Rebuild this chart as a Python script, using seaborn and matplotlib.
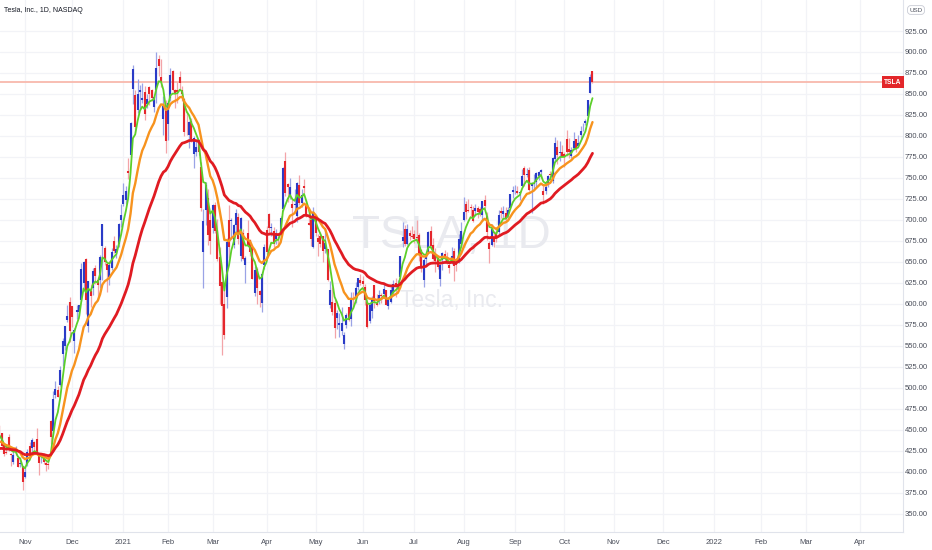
import numpy as np
import pandas as pd
import matplotlib
matplotlib.use("Agg")
import matplotlib.pyplot as plt
import seaborn as sns

# --- data: TSLA daily bars, 2020-10-14 .. 2021-10-19 ---
# closes before the visible window, only used to warm up the moving averages
prior_close = [475.05, 447.37, 407.00, 418.32, 330.21, 366.28, 371.34, 372.72, 419.62, 449.76,
               441.76, 423.43, 442.15, 449.39, 424.23, 380.36, 387.79, 407.34, 421.20, 419.07,
               429.01, 448.16, 415.09, 425.68, 413.98, 425.30, 425.92, 434.00, 442.30, 446.65]

open_px = [
    449.78, 450.31, 454.44, 446.24, 431.75, 422.70, 441.92, 421.84, 411.63, 423.76, 416.48, 409.96, 406.90,
    394.00, 409.73, 430.62, 428.30, 436.10, 439.50, 420.09, 416.45, 415.05, 410.85, 408.93, 460.17, 448.35,
    492.00, 497.99, 503.50, 540.40, 550.06, 581.16, 602.21,
    597.59, 556.44, 590.02, 591.01, 604.92, 625.51, 653.69, 574.37, 615.01, 619.00, 643.28, 628.23, 628.19,
    668.90, 666.24, 648.00, 632.20, 642.99, 674.51, 661.00, 672.00, 699.99,
    719.46, 723.66, 758.49, 777.63, 856.00, 849.40, 831.00, 852.76, 843.39, 852.00, 837.80, 858.74, 855.00,
    834.31, 855.00, 891.38, 870.35, 820.00, 830.00,
    814.29, 844.68, 877.02, 855.00, 855.00, 869.67, 855.12, 843.64, 812.44, 801.26, 818.00, 779.09, 780.90,
    795.00, 762.64, 662.13, 711.85, 726.15, 700.00,
    690.11, 718.28, 687.99, 655.80, 626.06, 600.55, 608.18, 700.30, 699.40, 670.00, 694.09, 703.35, 656.87,
    684.29, 646.60, 684.59, 675.77, 667.91, 613.00, 641.87, 615.64, 601.75, 646.62,
    688.37, 707.71, 690.30, 687.00, 677.38, 677.77, 685.70, 712.70, 770.70, 743.10, 728.65, 719.60, 717.42,
    704.77, 741.50, 719.80, 741.00, 717.96, 696.41, 699.51, 667.59,
    703.80, 678.94, 681.06, 680.76, 665.80, 664.90, 599.24, 602.49, 601.54, 583.41, 575.55, 568.00, 552.55,
    575.00, 596.11, 581.60, 607.31, 607.56, 620.24, 628.50,
    627.80, 620.13, 601.80, 579.71, 591.83, 623.01, 602.17, 603.88, 610.23, 612.23, 616.69, 597.54, 601.89,
    613.37, 624.48, 618.25, 632.00, 674.99, 689.58, 671.64, 684.65, 679.77,
    683.92, 678.98, 681.71, 664.27, 628.37, 653.18, 662.20, 686.32, 670.75, 658.39, 654.68, 629.89, 651.99,
    659.61, 656.44, 646.36, 650.97, 663.40, 647.00, 649.79, 671.76,
    700.00, 719.00, 711.00, 716.00, 711.90, 710.17, 713.99, 712.71, 706.34, 723.71, 705.07, 672.66, 669.75,
    678.21, 682.85, 685.44, 710.68, 707.03, 708.31, 705.00, 714.72, 733.00,
    734.08, 734.50, 732.25, 740.00, 761.58, 753.41, 759.60, 740.21, 742.57, 745.00, 752.83, 757.15, 734.56,
    734.79, 743.53, 755.00, 745.89, 773.12, 787.20, 779.80, 781.00,
    778.40, 796.50, 784.80, 776.20, 785.46, 796.21, 787.65, 800.93, 810.47, 815.49, 823.73, 851.77, 877.53,
]
high_px = [
    465.90, 456.57, 455.95, 447.00, 431.75, 432.95, 445.23, 422.89, 425.76, 430.50, 418.60, 418.06, 407.59,
    406.98, 427.77, 435.40, 440.00, 436.57, 452.50, 420.09, 418.70, 423.00, 412.53, 412.45, 462.00, 496.00,
    508.61, 502.50, 526.00, 559.99, 574.00, 598.78, 607.80,
    597.85, 571.54, 598.97, 599.04, 648.79, 651.28, 654.32, 627.75, 624.00, 642.75, 646.90, 632.50, 658.82,
    695.00, 668.50, 649.88, 651.50, 666.09, 681.40, 669.90, 696.60, 718.72,
    744.49, 740.84, 774.00, 816.99, 884.49, 854.43, 868.00, 860.47, 863.00, 859.90, 850.00, 859.50, 855.72,
    848.00, 900.40, 895.90, 891.50, 848.00, 842.41,
    842.00, 880.50, 878.08, 856.50, 864.77, 877.77, 859.80, 844.82, 829.88, 817.33, 821.00, 799.84, 794.69,
    796.79, 768.50, 713.61, 745.00, 737.21, 706.70,
    719.00, 721.11, 700.70, 668.45, 627.84, 620.13, 678.09, 717.85, 702.50, 694.88, 713.18, 707.92, 703.73,
    689.23, 657.23, 699.62, 677.80, 668.02, 645.50, 643.82, 616.48, 637.66, 672.00,
    692.42, 708.16, 696.55, 691.38, 689.55, 680.97, 704.80, 763.00, 780.79, 743.69, 749.41, 725.40, 737.25,
    744.84, 753.77, 737.36, 749.30, 724.00, 708.50, 702.25, 715.47,
    706.00, 683.45, 685.30, 681.02, 690.00, 665.05, 627.10, 620.41, 606.46, 592.87, 589.73, 596.25, 566.21,
    588.85, 596.68, 614.48, 613.99, 626.17, 631.13, 635.59,
    633.80, 623.36, 604.55, 600.61, 610.00, 623.09, 611.79, 616.59, 612.56, 625.49, 616.79, 608.50, 621.47,
    628.35, 631.39, 628.57, 657.20, 697.62, 693.81, 694.70, 687.51, 692.81,
    687.99, 700.00, 684.00, 665.70, 654.43, 658.91, 687.24, 693.28, 678.61, 666.14, 656.70, 647.20, 662.39,
    664.86, 662.17, 648.80, 668.20, 666.50, 654.97, 683.69, 697.53,
    726.94, 722.65, 724.90, 719.03, 716.33, 719.03, 716.59, 715.18, 722.80, 729.90, 709.50, 674.58, 695.77,
    686.55, 692.13, 712.13, 715.22, 716.97, 715.40, 715.00, 731.00, 740.39,
    741.99, 740.97, 734.00, 760.20, 764.45, 762.10, 762.61, 744.78, 754.47, 756.86, 758.91, 761.04, 742.00,
    744.74, 753.67, 758.20, 774.80, 799.00, 795.64, 793.50, 789.13,
    780.78, 806.97, 797.31, 786.66, 805.00, 796.38, 801.24, 812.32, 815.41, 820.25, 843.21, 874.25, 877.95,
]
low_px = [
    447.35, 442.50, 438.85, 428.87, 419.05, 421.25, 424.51, 407.38, 410.00, 420.10, 406.00, 406.46, 379.11,
    392.30, 406.69, 417.10, 424.00, 424.28, 421.00, 396.03, 410.58, 409.52, 401.66, 404.09, 433.01, 443.50,
    487.57, 489.06, 501.79, 526.20, 545.37, 578.45, 554.51,
    572.05, 541.21, 582.43, 585.50, 603.05, 618.50, 588.00, 566.34, 596.80, 610.20, 623.80, 605.00, 619.50,
    628.54, 646.07, 614.23, 622.57, 641.00, 660.80, 655.00, 668.36, 691.12,
    717.19, 719.20, 749.10, 775.20, 838.39, 803.62, 827.34, 832.00, 838.75, 819.10, 833.00, 837.28, 841.42,
    828.62, 838.82, 871.60, 858.66, 801.00, 780.10,
    795.56, 842.20, 853.06, 833.42, 838.97, 854.75, 841.75, 800.02, 801.73, 785.33, 792.44, 762.01, 776.27,
    777.37, 710.20, 619.00, 694.17, 670.58, 659.51,
    685.05, 685.00, 651.71, 600.00, 539.49, 558.79, 595.21, 655.06, 677.18, 666.14, 684.04, 671.00, 651.01,
    652.00, 624.62, 668.75, 657.51, 630.11, 609.50, 599.89, 596.02, 591.01, 641.11,
    659.42, 684.70, 681.37, 667.84, 671.65, 669.43, 682.09, 710.66, 728.03, 721.31, 724.60, 691.80, 710.69,
    698.00, 718.04, 715.46, 732.61, 703.35, 693.60, 668.50, 666.14,
    680.50, 657.70, 667.34, 650.00, 660.22, 627.61, 595.60, 586.77, 559.65, 570.46, 561.20, 563.38, 546.98,
    571.07, 580.00, 573.65, 595.71, 601.50, 616.21, 622.38,
    620.55, 599.14, 571.22, 577.20, 582.88, 595.50, 597.63, 600.50, 601.52, 609.18, 598.23, 593.50, 601.34,
    611.80, 608.88, 615.50, 630.04, 667.61, 668.70, 670.32, 675.89, 678.14,
    672.80, 673.26, 651.40, 638.32, 620.46, 644.69, 662.16, 666.30, 652.84, 637.88, 642.20, 621.29, 640.50,
    650.29, 647.80, 637.30, 647.11, 627.24, 639.40, 648.80, 669.00,
    698.40, 701.01, 708.93, 705.13, 697.63, 705.13, 701.88, 704.21, 699.40, 714.34, 676.40, 648.84, 669.35,
    667.59, 673.70, 682.68, 702.64, 704.00, 697.62, 702.10, 712.73, 726.44,
    731.27, 730.54, 724.20, 739.26, 740.77, 751.63, 734.52, 708.85, 736.40, 738.36, 747.61, 750.00, 718.62,
    730.44, 739.12, 747.92, 744.56, 769.31, 766.18, 770.68, 775.00,
    763.59, 776.12, 774.20, 773.22, 783.38, 780.91, 785.50, 796.57, 805.78, 813.35, 822.35, 851.47, 862.51,
]
close_px = [
    461.30, 448.88, 439.67, 430.83, 421.94, 422.64, 425.79, 420.63, 420.28, 424.68, 406.02, 410.83, 388.04,
    400.51, 423.90, 420.98, 438.09, 429.95, 421.26, 410.36, 417.13, 411.76, 408.50, 408.09, 441.61, 486.64,
    499.27, 489.61, 521.85, 555.38, 574.00, 585.76, 567.60,
    584.76, 568.82, 593.38, 599.04, 641.76, 649.88, 604.48, 627.07, 609.99, 639.83, 633.25, 622.77, 655.90,
    695.00, 649.86, 640.34, 645.98, 661.77, 663.69, 665.99, 694.78, 705.67,
    729.77, 735.11, 755.98, 816.04, 880.02, 811.19, 849.44, 854.41, 845.00, 826.16, 844.55, 850.45, 844.99,
    846.64, 880.80, 883.09, 864.16, 835.43, 793.53,
    839.81, 872.79, 854.69, 849.99, 852.23, 863.42, 849.46, 804.82, 811.66, 816.12, 796.22, 798.15, 787.38,
    781.30, 714.50, 698.84, 742.02, 682.22, 675.50,
    718.43, 686.44, 653.20, 621.44, 597.95, 563.00, 673.58, 668.06, 699.60, 693.73, 707.94, 676.88, 701.81,
    653.16, 654.87, 670.00, 662.16, 630.27, 640.39, 618.71, 611.29, 635.62, 667.93,
    661.75, 691.05, 691.62, 670.97, 683.80, 677.02, 701.98, 762.32, 732.23, 738.85, 739.78, 714.63, 718.99,
    744.12, 719.69, 729.40, 738.20, 704.74, 694.40, 677.00, 709.44,
    684.90, 673.60, 670.94, 663.54, 672.37, 629.04, 617.20, 589.89, 571.69, 589.74, 576.83, 577.87, 563.46,
    586.78, 580.88, 606.44, 604.69, 619.13, 630.85, 625.22,
    623.90, 605.12, 572.84, 599.05, 605.13, 603.59, 598.78, 610.12, 609.89, 617.69, 599.36, 604.87, 616.60,
    623.31, 620.83, 623.71, 656.57, 679.82, 671.87, 688.72, 680.76, 679.70,
    677.92, 678.90, 659.58, 644.65, 652.81, 656.95, 685.70, 668.54, 653.38, 650.60, 644.22, 646.22, 660.50,
    655.29, 649.26, 643.38, 657.62, 644.78, 646.98, 677.35, 687.20,
    709.67, 709.74, 710.92, 714.63, 699.10, 713.76, 709.99, 707.82, 722.25, 717.17, 686.17, 665.71, 688.99,
    673.47, 680.26, 706.30, 708.49, 711.20, 701.16, 711.92, 730.91, 735.72,
    734.09, 732.39, 733.57, 752.92, 753.87, 754.86, 736.27, 743.00, 744.49, 755.83, 756.99, 759.49, 730.17,
    739.38, 751.94, 753.64, 774.39, 791.36, 777.56, 781.31, 775.48,
    775.22, 781.53, 780.59, 782.75, 793.61, 785.49, 791.94, 805.72, 811.08, 818.32, 843.03, 870.11, 864.27,
]

ma_spans = [5, 13, 34]
ma_colors = ["#5ccf2a", "#f7931e", "#e01b22"]
ma_widths = [1.3, 1.7, 2.0]

price_ticks = list(range(350, 926, 25))

nyse_holidays = ["2020-11-26", "2020-12-25", "2021-01-01", "2021-01-18", "2021-02-15",
                 "2021-04-02", "2021-05-31", "2021-07-05", "2021-09-06", "2021-11-25",
                 "2021-12-24", "2022-01-17", "2022-02-21", "2022-04-15"]

BLUE, BLUE_WICK = "#2a3bc7", "#9aa3e6"
RED, RED_WICK = "#e5262c", "#f3a4a8"
GRID = "#f2f3f7"
TEXT = "#4a4e5a"

sns.set_theme(style="white")
plt.rcParams["font.family"] = ["Liberation Sans", "DejaVu Sans"]

# --- frame ---
bday = pd.offsets.CustomBusinessDay(holidays=nyse_holidays)
dates = pd.date_range("2020-10-14", periods=len(close_px), freq=bday)
axis_dates = pd.date_range("2020-10-14", "2022-05-31", freq=bday)

df = pd.DataFrame({"date": dates, "open": open_px, "high": high_px,
                   "low": low_px, "close": close_px})
df["x"] = np.arange(len(df))

full_close = pd.Series(prior_close + close_px)
for span in ma_spans:
    df[f"ema{span}"] = full_close.ewm(span=span, adjust=True).mean().iloc[len(prior_close):].values

# pixel layout: Nov 2 2020 bar at 25px, 2.345 px per bar, plot area 903 x 532 px
x_nov2 = int(np.where(dates == pd.Timestamp("2020-11-02"))[0][0])
px_per_bar = 2.345
x_left = x_nov2 - 25 / px_per_bar
x_right = x_nov2 + (903 - 25) / px_per_bar
y_top = 925 + 31 / 0.84
y_bottom = 350 - 18 / 0.84

fig = plt.figure(figsize=(9.32, 5.5), dpi=100)
ax = fig.add_axes([0, 18 / 550, 903 / 932, 532 / 550])
ax.set_xlim(x_left, x_right)
ax.set_ylim(y_bottom, y_top)

# month ticks at the first trading day of each month
month_first = pd.Series(np.arange(len(axis_dates)), index=axis_dates)
month_first = month_first.groupby([axis_dates.year, axis_dates.month]).first()
tick_pos, tick_lab = [], []
for (yr, mo), pos in month_first.items():
    if x_left < pos < x_right:
        tick_pos.append(pos)
        tick_lab.append(str(yr) if mo == 1 else pd.Timestamp(yr, mo, 1).strftime("%b"))

for p in tick_pos:
    ax.axvline(p, color=GRID, lw=0.9, zorder=0)
for t in price_ticks:
    ax.axhline(t, color=GRID, lw=0.9, zorder=0)

# watermark
ax.text(0.5, 0.556, "TSLA, 1D", transform=ax.transAxes, ha="center", va="center",
        fontsize=33, color="#e9eaef", zorder=0.5)
ax.text(0.5, 0.436, "Tesla, Inc.", transform=ax.transAxes, ha="center", va="center",
        fontsize=16.5, color="#e9eaef", zorder=0.5)

# candles
up = df["close"] >= df["open"]
body_lo = np.minimum(df["open"], df["close"])
body_hi = np.maximum(df["open"], df["close"]).clip(lower=body_lo + 0.8)
for mask, body_c, wick_c in [(up, BLUE, BLUE_WICK), (~up, RED, RED_WICK)]:
    ax.vlines(df["x"][mask], df["low"][mask], df["high"][mask], color=wick_c, lw=0.9, zorder=2)
    ax.vlines(df["x"][mask], body_lo[mask], body_hi[mask], color=body_c, lw=1.5, zorder=3)

# moving averages
for span, c, w in zip(ma_spans, ma_colors, ma_widths):
    sns.lineplot(data=df, x="x", y=f"ema{span}", color=c, lw=w, ax=ax, zorder=4)

# last price line + symbol tag
last = df["close"].iloc[-1]
ax.axhline(last, color="#f8b9ad", lw=1.3, zorder=1)
ax.text(893 / 903, last, "TSLA", transform=ax.get_yaxis_transform(), ha="center", va="center",
        fontsize=4.8, color="white", fontweight="bold", zorder=6,
        bbox=dict(boxstyle="square,pad=0.35", fc="#e3262a", ec="none"))

# axes styling
ax.set_xlabel("")
ax.set_ylabel("")
ax.set_xticks(tick_pos)
ax.set_xticklabels(tick_lab)
ax.set_yticks(price_ticks)
ax.set_yticklabels([f"{t:.2f}" for t in price_ticks])
ax.yaxis.tick_right()
ax.tick_params(axis="both", length=0, labelsize=5.5, labelcolor=TEXT)
ax.tick_params(axis="x", pad=5)
ax.tick_params(axis="y", pad=1.5)
for side in ["top", "left"]:
    ax.spines[side].set_visible(False)
for side in ["right", "bottom"]:
    ax.spines[side].set_color("#e0e3eb")
    ax.spines[side].set_linewidth(0.8)

fig.text(4 / 932, 1 - 10 / 550, "Tesla, Inc., 1D, NASDAQ", ha="left", va="center",
         fontsize=5, color="#131722")
fig.text(916 / 932, 1 - 10 / 550, "USD", ha="center", va="center", fontsize=4.5, color=TEXT,
         bbox=dict(boxstyle="round,pad=0.3,rounding_size=0.5", fc="white", ec="#c8cbd4", lw=0.6))

fig.savefig("out.png", dpi=100, facecolor="white")
